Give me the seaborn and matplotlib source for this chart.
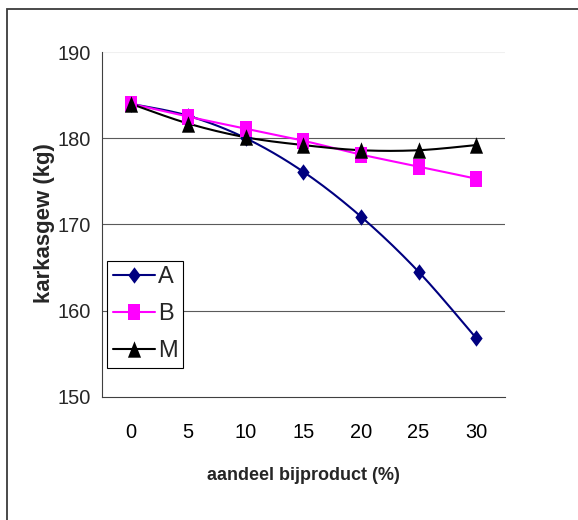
import numpy as np
import pandas as pd
import matplotlib
matplotlib.use("Agg")
import matplotlib.pyplot as plt
from matplotlib.path import Path
from matplotlib.lines import Line2D
from matplotlib.patches import Rectangle
import seaborn as sns

# Carcass weight per share of by-product in the ration
categories = ["0", "5", "10", "15", "20", "25", "30"]
series_names = ["A", "B", "M"]
values_a = [184.0, 182.6, 180.0, 176.1, 170.9, 164.5, 156.8]
values_b = [184.0, 182.5, 181.1, 179.7, 178.1, 176.7, 175.3]
values_m = [184.0, 181.7, 180.1, 179.2, 178.6, 178.6, 179.2]
y_ticks = [150, 160, 170, 180, 190]

colors = {"A": "#000080", "B": "#FF00FF", "M": "#000000"}

# slightly tall marker shapes
diamond = Path([(0, 1), (0.75, 0), (0, -1), (-0.75, 0), (0, 1)],
               [Path.MOVETO, Path.LINETO, Path.LINETO, Path.LINETO, Path.CLOSEPOLY])
square = Path([(-0.78, -1), (0.78, -1), (0.78, 1), (-0.78, 1), (-0.78, -1)],
              [Path.MOVETO, Path.LINETO, Path.LINETO, Path.LINETO, Path.CLOSEPOLY])
triangle = Path([(0, 1), (0.8, -1), (-0.8, -1), (0, 1)],
                [Path.MOVETO, Path.LINETO, Path.LINETO, Path.CLOSEPOLY])
markers = {"A": diamond, "B": square, "M": triangle}

sns.set_theme(style="white")
plt.rcParams["font.family"] = ["Liberation Sans", "DejaVu Sans"]

points = pd.DataFrame({
    "pos": list(range(len(categories))) * 3,
    "gewicht": values_a + values_b + values_m,
    "reeks": [s for s in series_names for _ in categories],
})


def smooth(xs, ys, steps=30):
    """Bezier smoothing through every point (Catmull-Rom style control points)."""
    px = np.asarray(xs, float)
    py = np.asarray(ys, float)
    n = len(px)
    out_x, out_y = [], []
    t = np.linspace(0, 1, steps)
    for i in range(n - 1):
        i0, i3 = max(i - 1, 0), min(i + 2, n - 1)
        c1x = px[i] + (px[i + 1] - px[i0]) / 6
        c1y = py[i] + (py[i + 1] - py[i0]) / 6
        c2x = px[i + 1] - (px[i3] - px[i]) / 6
        c2y = py[i + 1] - (py[i3] - py[i]) / 6
        bx = ((1 - t) ** 3) * px[i] + 3 * ((1 - t) ** 2) * t * c1x + 3 * (1 - t) * t ** 2 * c2x + t ** 3 * px[i + 1]
        by = ((1 - t) ** 3) * py[i] + 3 * ((1 - t) ** 2) * t * c1y + 3 * (1 - t) * t ** 2 * c2y + t ** 3 * py[i + 1]
        out_x.extend(bx if i == 0 else bx[1:])
        out_y.extend(by if i == 0 else by[1:])
    return out_x, out_y


curves = []
for name in series_names:
    sub = points[points["reeks"] == name]
    cx, cy = smooth(sub["pos"], sub["gewicht"])
    curves.append(pd.DataFrame({"pos": cx, "gewicht": cy, "reeks": name}))
curves = pd.concat(curves, ignore_index=True)

fig = plt.figure(figsize=(5.78, 5.2), dpi=100)
W, H = 578, 520
ax = fig.add_axes([101.7 / W, 1 - 396.7 / H, (505 - 101.7) / W, (396.7 - 52) / H])

# grid lines
for v in [160, 170, 180]:
    ax.axhline(v, color="#5a5a5a", lw=0.8, zorder=0)
ax.axhline(190, color="#f0f0f0", lw=0.8, zorder=0)

sns.lineplot(data=curves, x="pos", y="gewicht", hue="reeks", palette=colors,
             sort=False, estimator=None, lw=1.5, legend=False, ax=ax, zorder=2)
for name in series_names:
    sub = points[points["reeks"] == name]
    sns.scatterplot(data=sub, x="pos", y="gewicht", color=colors[name],
                    marker=markers[name], s=140, edgecolor=colors[name],
                    linewidth=0, legend=False, ax=ax, zorder=3)

ax.set_xlim(-0.5, len(categories) - 0.5)
ax.set_ylim(150, 190)

ax.set_xticks(range(len(categories)))
ax.set_xticklabels(categories)
ax.set_xticks(np.arange(-0.5, len(categories)), minor=True)
ax.tick_params(axis="x", which="major", length=0, pad=19, labelsize=14.4, colors="#000000")
ax.tick_params(axis="x", which="minor", length=5.8, width=0.8, direction="out", color="#000000")

ax.set_yticks(y_ticks)
ax.set_yticklabels([str(v) for v in y_ticks])
ax.set_yticks([155, 165, 175, 185], minor=True)
ax.tick_params(axis="y", which="major", length=6.5, width=0.8, direction="inout",
               pad=4.5, labelsize=14.4, color="#000000")
ax.tick_params(axis="y", which="minor", length=3.1, width=0.8, direction="in", color="#000000")

for side in ["top", "right"]:
    ax.spines[side].set_visible(False)
for side in ["left", "bottom"]:
    ax.spines[side].set_color("#404040")
    ax.spines[side].set_linewidth(0.8)

ax.set_xlabel("aandeel bijproduct (%)", fontsize=13, fontweight="bold", va="center")
ax.xaxis.set_label_coords(0.5, -0.228)
ax.set_ylabel("karkasgew (kg)", fontsize=16, fontweight="bold", va="center")
ax.yaxis.set_label_coords(-0.143, 0.504)

handles = [Line2D([0], [0], color=colors[n], lw=1.5, marker=markers[n],
                  markersize=11.8, markerfacecolor=colors[n], markeredgewidth=0)
           for n in series_names]
leg = ax.legend(handles, series_names, loc="upper left", bbox_to_anchor=(0.014, 0.395),
                borderaxespad=0, frameon=True, fancybox=False, framealpha=1,
                edgecolor="#000000", handlelength=1.78, handletextpad=0.1,
                labelspacing=0.63, borderpad=0.25,
                prop={"family": ["Liberation Sans", "DejaVu Sans"], "size": 17})
leg.get_frame().set_linewidth(0.8)

# chart frame
fig.patches.append(Rectangle((7 / W, -0.1), 2, 1.1 - 9 / H, transform=fig.transFigure,
                             fill=False, edgecolor="#3a3a3a", lw=1.3, zorder=10))

fig.savefig("out.png", dpi=100, facecolor="white")
